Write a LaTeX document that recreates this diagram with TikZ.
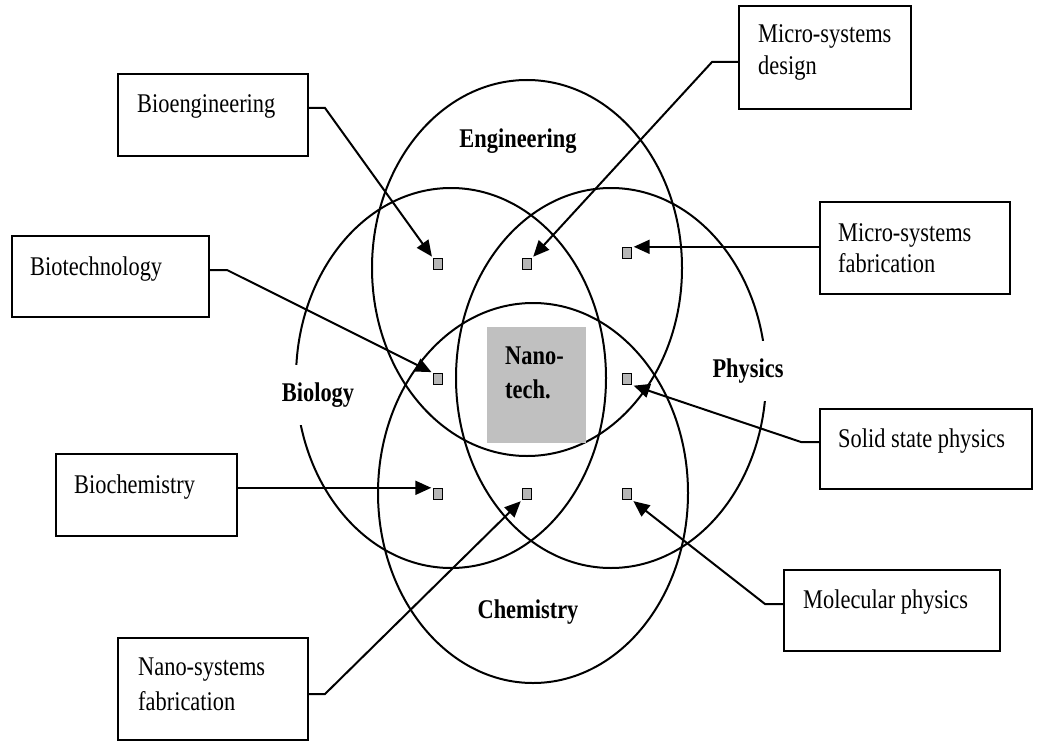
\documentclass[tikz,border=0pt]{standalone}
\usepackage{fontspec}
\setmainfont{Liberation Serif}[FakeStretch=0.83]
\usetikzlibrary{arrows.meta}
\definecolor{nanogray}{RGB}{192,192,192}
\definecolor{markgray}{RGB}{182,182,182}
\begin{document}
\begin{tikzpicture}[x=1pt,y=-1pt,
  ring/.style={line width=2pt},
  field/.style={font=\fontsize{27}{31}\selectfont\bfseries, fill=white, inner sep=3pt, minimum height=60pt},
  infobox/.style={draw, line width=2pt, inner sep=0pt, anchor=north west},
  infotext/.style={font=\fontsize{27}{31}\selectfont, anchor=base west, inner sep=0pt},
  boldtext/.style={font=\fontsize{27}{31}\selectfont\bfseries, anchor=base west, inner sep=0pt},
  marker/.style={draw, line width=1.4pt, fill=markgray, inner sep=0pt, minimum width=9pt, minimum height=11pt},
  link/.style={line width=2pt, -{Triangle[length=16pt,width=14pt]}, shorten >=1.5pt},
]
\useasboundingbox (0,0) rectangle (1043,741);

% the four overlapping fields
\draw[ring] (527,268) ellipse [x radius=155, y radius=188];
\draw[ring] (451,378) ellipse [x radius=155, y radius=190];
\draw[ring] (611,378) ellipse [x radius=155, y radius=190];
\draw[ring] (533,493) ellipse [x radius=155, y radius=190];

% field names
\node[font=\fontsize{27}{31}\selectfont\bfseries, anchor=base, inner sep=0pt] (engl) at (518,147) {Engineering};
\node[field, anchor=base] (biol) at (318,401) {Biology};
\node[field, anchor=base] (phyl) at (748,377) {Physics};
\node[font=\fontsize{27}{31}\selectfont\bfseries, anchor=base, inner sep=0pt] (cheml) at (528,618) {Chemistry};

% central overlap
\node[fill=nanogray, inner sep=0pt, minimum width=99pt, minimum height=116pt, anchor=north west] (nanobox) at (487,327) {};
\node[boldtext] (nano1) at (505,364) {Nano-};
\node[boldtext] (nano2) at (505,398) {tech.};

% overlap markers
\node[marker] (s1) at (438,264) {};
\node[marker] (s2) at (527,264) {};
\node[marker] (s3) at (627,253) {};
\node[marker] (s4) at (438,379) {};
\node[marker] (s5) at (627,379) {};
\node[marker] (s6) at (438,494) {};
\node[marker] (s7) at (527,494) {};
\node[marker] (s8) at (627,494) {};

% discipline boxes
\node[infobox, minimum width=190pt, minimum height=82pt] (bioeng) at (117,73) {};
\node[infotext] (bioengt) at (137,113) {Bioengineering};

\node[infobox, minimum width=197pt, minimum height=81pt] (biotech) at (11,235) {};
\node[infotext] (biotecht) at (30,275) {Biotechnology};

\node[infobox, minimum width=181pt, minimum height=82pt] (biochem) at (55,453) {};
\node[infotext] (biochemt) at (74,493) {Biochemistry};

\node[infobox, minimum width=190pt, minimum height=102pt] (nanosys) at (117,637) {};
\node[infotext] (nanosyst1) at (138,675) {Nano-systems};
\node[infotext] (nanosyst2) at (138,710) {fabrication};

\node[infobox, minimum width=172pt, minimum height=103pt] (microdes) at (738,5) {};
\node[infotext] (microdest1) at (758,43) {Micro-systems};
\node[infotext] (microdest2) at (758,75) {design};

\node[infobox, minimum width=190pt, minimum height=92pt] (microfab) at (819,201) {};
\node[infotext] (microfabt1) at (838,241) {Micro-systems};
\node[infotext] (microfabt2) at (838,272) {fabrication};

\node[infobox, minimum width=212pt, minimum height=80pt] (solid) at (819,408) {};
\node[infotext] (solidt) at (838,447) {Solid state physics};

\node[infobox, minimum width=216pt, minimum height=81pt] (molec) at (783,569) {};
\node[infotext] (molect) at (803,608) {Molecular physics};

% bends of the leader lines
\coordinate (k1) at (325,108);
\coordinate (k2) at (227,270);
\coordinate (k7) at (325,694);
\coordinate (k3) at (712,62);
\coordinate (k5) at (801,442);
\coordinate (k8) at (765,604);

% leader lines
\draw[link] (bioeng.east |- k1) -- (k1) -- (s1.north west);
\draw[link] (biotech.east |- k2) -- (k2) -- (s4.north west);
\draw[link] (biochem.east |- s6.north west) -- (s6.north west);
\draw[link] (nanosys.east |- k7) -- (k7) -- (s7.south west);
\draw[link] (microdes.west |- k3) -- (k3) -- (s2.north east);
\draw[link] (microfab.west |- s3.north east) -- (s3.north east);
\draw[link] (solid.west |- k5) -- (k5) -- (s5.south east);
\draw[link] (molec.west |- k8) -- (k8) -- (s8.south east);
\end{tikzpicture}
\end{document}
